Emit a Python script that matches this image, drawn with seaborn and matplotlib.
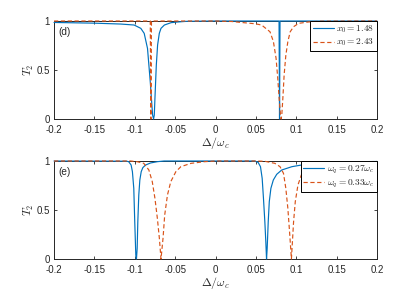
import numpy as np
import pandas as pd
import matplotlib
matplotlib.use("Agg")
import matplotlib.pyplot as plt
import seaborn as sns

# ---------------- data ----------------
# panel (d): x0 = 1.48 (solid blue)
d_blue_x = [-0.2, -0.15, -0.1175, -0.1008, -0.0925, -0.0883, -0.0842, -0.0808, -0.0779, -0.0767,
            -0.0758, -0.0750, -0.0733, -0.0717, -0.0696, -0.0675, -0.0633, -0.055, -0.0467, -0.035,
            0.0, 0.0787, 0.0793, 0.0799, 0.2]
d_blue_y = [0.985, 0.978, 0.969, 0.959, 0.925, 0.874, 0.72, 0.38, 0.04, 0.0,
            0.04, 0.21, 0.55, 0.755, 0.874, 0.925, 0.959, 0.983, 0.99, 0.997,
            1.0, 1.0, 0.0, 1.0, 1.0]
# panel (d): x0 = 2.43 (dashed orange)
d_orange_x = [-0.2, -0.0808, -0.0800, -0.0793, 0.0, 0.02, 0.0321, 0.0488, 0.0571, 0.0675,
              0.0717, 0.0750, 0.0771, 0.0788, 0.0805, 0.0813, 0.0821, 0.0834, 0.0850, 0.0871,
              0.0896, 0.0925, 0.0967, 0.103, 0.115, 0.13, 0.2]
d_orange_y = [1.0, 1.0, 0.0, 1.0, 1.0, 0.995, 0.985, 0.972, 0.959, 0.89,
              0.79, 0.62, 0.415, 0.21, 0.04, 0.0, 0.04, 0.21, 0.45, 0.65,
              0.79, 0.89, 0.942, 0.976, 0.99, 0.998, 1.0]

# panel (e): omega_q = 0.27 omega_c (solid blue)
e_blue_x = [-0.2, -0.11, -0.1075, -0.1045, -0.1029, -0.1012, -0.1000, -0.0987, -0.0979, -0.0970,
            -0.0962, -0.0950, -0.0937, -0.0920, -0.0900, -0.0866, -0.0804, -0.072, -0.0637, 0.04,
            0.0485, 0.0528, 0.0557, 0.0578, 0.0594, 0.0611, 0.0623, 0.0632, 0.0640, 0.0653,
            0.0666, 0.0686, 0.0716, 0.0758, 0.0820, 0.0946, 0.1113, 0.1239, 0.15, 0.2]
e_blue_y = [1.0, 0.998, 0.993, 0.959, 0.891, 0.721, 0.381, 0.04, 0.0, 0.109,
            0.381, 0.653, 0.806, 0.891, 0.932, 0.959, 0.98, 0.993, 1.0, 1.0,
            1.0, 0.986, 0.942, 0.823, 0.619, 0.381, 0.177, 0.0, 0.109, 0.381,
            0.585, 0.721, 0.806, 0.864, 0.908, 0.942, 0.966, 0.983, 0.99, 0.995]
# panel (e): omega_q = 0.33 omega_c (dashed orange)
e_orange_x = [-0.2, -0.105, -0.097, -0.0888, -0.0825, -0.0783, -0.0750, -0.0720, -0.0695, -0.0675,
              -0.0650, -0.0629, -0.0595, -0.0554, -0.0491, -0.0429, -0.0304, -0.0137, 0.0, 0.05,
              0.0611, 0.0736, 0.0799, 0.0842, 0.0871, 0.0896, 0.0917, 0.0940, 0.0955, 0.0967,
              0.0988, 0.1021, 0.1063, 0.1134, 0.1219, 0.14, 0.2]
e_orange_y = [1.0, 1.0, 0.993, 0.976, 0.908, 0.789, 0.619, 0.415, 0.21, 0.0,
              0.21, 0.449, 0.653, 0.789, 0.891, 0.942, 0.976, 0.993, 1.0, 1.0,
              0.997, 0.976, 0.942, 0.874, 0.721, 0.517, 0.279, 0.0, 0.21, 0.381,
              0.585, 0.755, 0.857, 0.925, 0.966, 0.985, 0.995]

x_ticks = [-0.2, -0.15, -0.1, -0.05, 0, 0.05, 0.1, 0.15, 0.2]
x_tick_labels = ['-0.2', '-0.15', '-0.1', '-0.05', '0', '0.05', '0.1', '0.15', '0.2']
y_ticks = [0, 0.5, 1]
y_tick_labels = ['0', '0.5', '1']

panels = [
    dict(tag='(d)', series=[(d_blue_x, d_blue_y, r'$x_0 = 1.48$'),
                            (d_orange_x, d_orange_y, r'$x_0 = 2.43$')]),
    dict(tag='(e)', series=[(e_blue_x, e_blue_y, r'$\omega_q = 0.27\omega_c$'),
                            (e_orange_x, e_orange_y, r'$\omega_q = 0.33\omega_c$')]),
]

# ---------------- style ----------------
sns.set_style("ticks")
plt.rcParams['font.family'] = ['Liberation Sans', 'DejaVu Sans']
plt.rcParams['mathtext.fontset'] = 'cm'
plt.rcParams['axes.unicode_minus'] = False

BLUE = '#0072BD'
ORANGE = '#D95319'
AX_COL = '#262626'

fig = plt.figure(figsize=(4.15, 2.94), dpi=100)
axes_rects = [[54/415, 1-119/294, 323/415, 98/294],
              [54/415, 1-259/294, 323/415, 98/294]]

for rect, p in zip(axes_rects, panels):
    ax = fig.add_axes(rect)
    (bx, by, blab), (ox, oy, olab) = p['series']
    df_b = pd.DataFrame({'x': bx, 'y': by})
    df_o = pd.DataFrame({'x': ox, 'y': oy})
    sns.lineplot(data=df_b, x='x', y='y', ax=ax, color=BLUE, lw=0.85,
                 label=blab, estimator=None, clip_on=False, zorder=3)
    sns.lineplot(data=df_o, x='x', y='y', ax=ax, color=ORANGE, lw=0.85,
                 linestyle=(0, (3.6, 2.2)), label=olab, estimator=None,
                 clip_on=False, zorder=3.1)
    ax.set_xlim(-0.2, 0.2)
    ax.set_ylim(0, 1)
    ax.set_xticks(x_ticks)
    ax.set_xticklabels(x_tick_labels)
    ax.set_yticks(y_ticks)
    ax.set_yticklabels(y_tick_labels)
    ax.tick_params(direction='in', length=2.5, width=0.6, colors=AX_COL,
                   labelsize=7, top=True, right=True)
    ax.tick_params(axis='x', pad=4.5)
    ax.tick_params(axis='y', pad=3.0)
    for s in ax.spines.values():
        s.set_visible(True)
        s.set_color(AX_COL)
        s.set_linewidth(0.7)
    ax.set_xlabel(r'$\Delta/\omega_c$', fontsize=8.5, labelpad=0.0, color=AX_COL)
    ax.set_ylabel(r'$T_2$', fontsize=8.5, labelpad=0.5, color=AX_COL)
    ax.text(0.012, 0.89, p['tag'], transform=ax.transAxes, fontsize=7.2,
            color=AX_COL, va='center', ha='left')
    leg = ax.legend(loc='upper right', bbox_to_anchor=(1, 1), borderaxespad=0,
                    fontsize=6.8, frameon=True, fancybox=False, framealpha=1,
                    edgecolor='black', handlelength=2.2, handletextpad=0.3,
                    borderpad=0.25, labelspacing=0.2)
    leg.get_frame().set_linewidth(0.7)
    leg.set_zorder(10)

fig.savefig('out.png', dpi=100)
